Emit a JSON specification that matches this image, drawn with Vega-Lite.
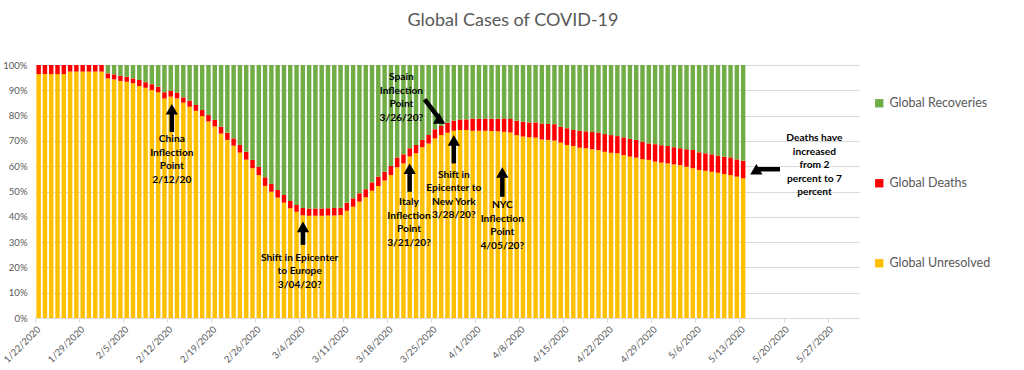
{
  "$schema": "https://vega.github.io/schema/vega-lite/v6.json",
  "width": 824,
  "height": 253,
  "autosize": {"type": "none"},
  "padding": {"left": 35, "top": 65, "right": 165, "bottom": 52},
  "background": "white",
  "title": {"text": "Global Cases of COVID-19", "font": "Lato", "fontSize": 18, "fontWeight": "normal", "color": "#595959", "anchor": "middle", "dx": 66, "offset": 30},
  "config": {
    "view": {"stroke": null},
    "axis": {"labelFont": "Lato", "labelColor": "#595959", "labelFontSize": 9.5, "title": null}
  },
  "datasets": {
    "cases": [
      {"d": "2020-01-22", "Active": 96.4, "Deaths": 3.6, "Recovered": 0},
      {"d": "2020-01-23", "Active": 96.4, "Deaths": 3.6, "Recovered": 0},
      {"d": "2020-01-24", "Active": 96.4, "Deaths": 3.6, "Recovered": 0},
      {"d": "2020-01-25", "Active": 96.4, "Deaths": 3.6, "Recovered": 0},
      {"d": "2020-01-26", "Active": 96.4, "Deaths": 3.6, "Recovered": 0},
      {"d": "2020-01-27", "Active": 97.4, "Deaths": 2.6, "Recovered": 0},
      {"d": "2020-01-28", "Active": 97.4, "Deaths": 2.6, "Recovered": 0},
      {"d": "2020-01-29", "Active": 97.4, "Deaths": 2.6, "Recovered": 0},
      {"d": "2020-01-30", "Active": 97.4, "Deaths": 2.6, "Recovered": 0},
      {"d": "2020-01-31", "Active": 97.4, "Deaths": 2.6, "Recovered": 0},
      {"d": "2020-02-01", "Active": 97.4, "Deaths": 2.6, "Recovered": 0},
      {"d": "2020-02-02", "Active": 94.7, "Deaths": 2.0, "Recovered": 3.3},
      {"d": "2020-02-03", "Active": 94.3, "Deaths": 2.0, "Recovered": 3.7},
      {"d": "2020-02-04", "Active": 93.7, "Deaths": 2.0, "Recovered": 4.3},
      {"d": "2020-02-05", "Active": 93.4, "Deaths": 2.0, "Recovered": 4.6},
      {"d": "2020-02-06", "Active": 92.8, "Deaths": 1.9, "Recovered": 5.3},
      {"d": "2020-02-07", "Active": 91.7, "Deaths": 2.4, "Recovered": 5.9},
      {"d": "2020-02-08", "Active": 91.0, "Deaths": 2.2, "Recovered": 6.8},
      {"d": "2020-02-09", "Active": 90.1, "Deaths": 2.3, "Recovered": 7.6},
      {"d": "2020-02-10", "Active": 89.2, "Deaths": 2.2, "Recovered": 8.6},
      {"d": "2020-02-11", "Active": 86.8, "Deaths": 2.4, "Recovered": 10.8},
      {"d": "2020-02-12", "Active": 87.5, "Deaths": 2.3, "Recovered": 10.2},
      {"d": "2020-02-13", "Active": 86.8, "Deaths": 2.3, "Recovered": 10.9},
      {"d": "2020-02-14", "Active": 85.1, "Deaths": 2.1, "Recovered": 12.8},
      {"d": "2020-02-15", "Active": 83.5, "Deaths": 2.4, "Recovered": 14.1},
      {"d": "2020-02-16", "Active": 81.9, "Deaths": 2.3, "Recovered": 15.8},
      {"d": "2020-02-17", "Active": 79.8, "Deaths": 2.4, "Recovered": 17.8},
      {"d": "2020-02-18", "Active": 77.7, "Deaths": 2.5, "Recovered": 19.8},
      {"d": "2020-02-19", "Active": 75.7, "Deaths": 2.6, "Recovered": 21.7},
      {"d": "2020-02-20", "Active": 72.9, "Deaths": 2.7, "Recovered": 24.4},
      {"d": "2020-02-21", "Active": 70.4, "Deaths": 2.8, "Recovered": 26.8},
      {"d": "2020-02-22", "Active": 68.1, "Deaths": 2.9, "Recovered": 29.0},
      {"d": "2020-02-23", "Active": 65.4, "Deaths": 3.0, "Recovered": 31.6},
      {"d": "2020-02-24", "Active": 62.6, "Deaths": 3.1, "Recovered": 34.3},
      {"d": "2020-02-25", "Active": 59.2, "Deaths": 3.3, "Recovered": 37.5},
      {"d": "2020-02-26", "Active": 56.5, "Deaths": 3.3, "Recovered": 40.2},
      {"d": "2020-02-27", "Active": 52.2, "Deaths": 3.4, "Recovered": 44.4},
      {"d": "2020-02-28", "Active": 49.9, "Deaths": 3.1, "Recovered": 47.0},
      {"d": "2020-02-29", "Active": 47.6, "Deaths": 3.0, "Recovered": 49.4},
      {"d": "2020-03-01", "Active": 45.6, "Deaths": 3.0, "Recovered": 51.4},
      {"d": "2020-03-02", "Active": 43.4, "Deaths": 2.8, "Recovered": 53.8},
      {"d": "2020-03-03", "Active": 42.0, "Deaths": 2.7, "Recovered": 55.3},
      {"d": "2020-03-04", "Active": 40.6, "Deaths": 2.9, "Recovered": 56.5},
      {"d": "2020-03-05", "Active": 40.4, "Deaths": 2.9, "Recovered": 56.7},
      {"d": "2020-03-06", "Active": 40.4, "Deaths": 2.9, "Recovered": 56.7},
      {"d": "2020-03-07", "Active": 40.4, "Deaths": 2.9, "Recovered": 56.7},
      {"d": "2020-03-08", "Active": 40.5, "Deaths": 2.9, "Recovered": 56.6},
      {"d": "2020-03-09", "Active": 40.5, "Deaths": 3.0, "Recovered": 56.5},
      {"d": "2020-03-10", "Active": 40.7, "Deaths": 2.9, "Recovered": 56.4},
      {"d": "2020-03-11", "Active": 42.4, "Deaths": 3.2, "Recovered": 54.4},
      {"d": "2020-03-12", "Active": 44.0, "Deaths": 3.3, "Recovered": 52.7},
      {"d": "2020-03-13", "Active": 46.0, "Deaths": 3.3, "Recovered": 50.7},
      {"d": "2020-03-14", "Active": 47.7, "Deaths": 3.2, "Recovered": 49.1},
      {"d": "2020-03-15", "Active": 50.3, "Deaths": 3.3, "Recovered": 46.4},
      {"d": "2020-03-16", "Active": 52.2, "Deaths": 3.7, "Recovered": 44.1},
      {"d": "2020-03-17", "Active": 54.3, "Deaths": 3.5, "Recovered": 42.2},
      {"d": "2020-03-18", "Active": 56.5, "Deaths": 3.6, "Recovered": 39.9},
      {"d": "2020-03-19", "Active": 59.6, "Deaths": 3.8, "Recovered": 36.6},
      {"d": "2020-03-20", "Active": 61.1, "Deaths": 3.6, "Recovered": 35.3},
      {"d": "2020-03-21", "Active": 63.8, "Deaths": 3.3, "Recovered": 32.9},
      {"d": "2020-03-22", "Active": 65.1, "Deaths": 3.3, "Recovered": 31.6},
      {"d": "2020-03-23", "Active": 67.5, "Deaths": 2.9, "Recovered": 29.6},
      {"d": "2020-03-24", "Active": 69.0, "Deaths": 3.3, "Recovered": 27.7},
      {"d": "2020-03-25", "Active": 71.0, "Deaths": 3.6, "Recovered": 25.4},
      {"d": "2020-03-26", "Active": 72.3, "Deaths": 3.6, "Recovered": 24.1},
      {"d": "2020-03-27", "Active": 73.2, "Deaths": 4.0, "Recovered": 22.8},
      {"d": "2020-03-28", "Active": 74.0, "Deaths": 4.0, "Recovered": 22.0},
      {"d": "2020-03-29", "Active": 74.3, "Deaths": 4.2, "Recovered": 21.5},
      {"d": "2020-03-30", "Active": 74.3, "Deaths": 4.2, "Recovered": 21.5},
      {"d": "2020-03-31", "Active": 74.0, "Deaths": 4.8, "Recovered": 21.2},
      {"d": "2020-04-01", "Active": 74.0, "Deaths": 4.8, "Recovered": 21.2},
      {"d": "2020-04-02", "Active": 74.0, "Deaths": 4.8, "Recovered": 21.2},
      {"d": "2020-04-03", "Active": 73.9, "Deaths": 4.9, "Recovered": 21.2},
      {"d": "2020-04-04", "Active": 73.8, "Deaths": 5.0, "Recovered": 21.2},
      {"d": "2020-04-05", "Active": 73.6, "Deaths": 5.3, "Recovered": 21.1},
      {"d": "2020-04-06", "Active": 73.3, "Deaths": 5.4, "Recovered": 21.3},
      {"d": "2020-04-07", "Active": 72.3, "Deaths": 5.7, "Recovered": 22.0},
      {"d": "2020-04-08", "Active": 71.7, "Deaths": 5.9, "Recovered": 22.4},
      {"d": "2020-04-09", "Active": 71.4, "Deaths": 5.9, "Recovered": 22.7},
      {"d": "2020-04-10", "Active": 71.3, "Deaths": 6.0, "Recovered": 22.7},
      {"d": "2020-04-11", "Active": 70.6, "Deaths": 6.3, "Recovered": 23.1},
      {"d": "2020-04-12", "Active": 70.4, "Deaths": 6.3, "Recovered": 23.3},
      {"d": "2020-04-13", "Active": 70.1, "Deaths": 6.5, "Recovered": 23.4},
      {"d": "2020-04-14", "Active": 69.3, "Deaths": 6.3, "Recovered": 24.4},
      {"d": "2020-04-15", "Active": 68.4, "Deaths": 6.6, "Recovered": 25.0},
      {"d": "2020-04-16", "Active": 68.0, "Deaths": 6.3, "Recovered": 25.7},
      {"d": "2020-04-17", "Active": 67.3, "Deaths": 6.7, "Recovered": 26.0},
      {"d": "2020-04-18", "Active": 67.1, "Deaths": 6.7, "Recovered": 26.2},
      {"d": "2020-04-19", "Active": 66.7, "Deaths": 6.8, "Recovered": 26.5},
      {"d": "2020-04-20", "Active": 66.4, "Deaths": 6.9, "Recovered": 26.7},
      {"d": "2020-04-21", "Active": 65.7, "Deaths": 7.0, "Recovered": 27.3},
      {"d": "2020-04-22", "Active": 65.3, "Deaths": 7.0, "Recovered": 27.7},
      {"d": "2020-04-23", "Active": 65.1, "Deaths": 6.8, "Recovered": 28.1},
      {"d": "2020-04-24", "Active": 64.4, "Deaths": 7.0, "Recovered": 28.6},
      {"d": "2020-04-25", "Active": 63.8, "Deaths": 7.0, "Recovered": 29.2},
      {"d": "2020-04-26", "Active": 63.4, "Deaths": 7.0, "Recovered": 29.6},
      {"d": "2020-04-27", "Active": 62.8, "Deaths": 6.9, "Recovered": 30.3},
      {"d": "2020-04-28", "Active": 62.5, "Deaths": 6.5, "Recovered": 31.0},
      {"d": "2020-04-29", "Active": 61.8, "Deaths": 6.9, "Recovered": 31.3},
      {"d": "2020-04-30", "Active": 61.4, "Deaths": 6.9, "Recovered": 31.7},
      {"d": "2020-05-01", "Active": 61.1, "Deaths": 6.9, "Recovered": 32.0},
      {"d": "2020-05-02", "Active": 60.7, "Deaths": 6.8, "Recovered": 32.5},
      {"d": "2020-05-03", "Active": 60.4, "Deaths": 6.7, "Recovered": 32.9},
      {"d": "2020-05-04", "Active": 59.8, "Deaths": 6.9, "Recovered": 33.3},
      {"d": "2020-05-05", "Active": 59.2, "Deaths": 7.2, "Recovered": 33.6},
      {"d": "2020-05-06", "Active": 58.5, "Deaths": 7.0, "Recovered": 34.5},
      {"d": "2020-05-07", "Active": 58.2, "Deaths": 6.9, "Recovered": 34.9},
      {"d": "2020-05-08", "Active": 57.8, "Deaths": 6.9, "Recovered": 35.3},
      {"d": "2020-05-09", "Active": 57.4, "Deaths": 6.8, "Recovered": 35.8},
      {"d": "2020-05-10", "Active": 56.9, "Deaths": 6.9, "Recovered": 36.2},
      {"d": "2020-05-11", "Active": 56.5, "Deaths": 7.0, "Recovered": 36.5},
      {"d": "2020-05-12", "Active": 55.9, "Deaths": 6.8, "Recovered": 37.3},
      {"d": "2020-05-13", "Active": 55.2, "Deaths": 7.0, "Recovered": 37.8}
    ],
    "notes": [
      {"x": "2020-02-12T18:00Z", "y": 72.7, "t": ["China", "Inflection", "Point", "2/12/20"]},
      {"x": "2020-03-04T02:00Z", "y": 25.7, "t": ["Shift in Epicenter", "to Europe", "3/04/20?"]},
      {"x": "2020-03-21T11:00Z", "y": 47.7, "t": ["Italy", "Inflection", "Point", "3/21/20?"]},
      {"x": "2020-03-28T14:00Z", "y": 58.5, "t": ["Shift in", "Epicenter to", "New York", "3/28/20?"]},
      {"x": "2020-04-05T07:00Z", "y": 46.6, "t": ["NYC", "Inflection", "Point", "4/05/20?"]},
      {"x": "2020-03-20T06:00Z", "y": 97.1, "t": ["Spain", "Inflection", "Point", "3/26/20?"]},
      {"x": "2020-05-24T22:00Z", "y": 73.0, "t": ["Deaths have", "increased", "from 2", "percent to 7", "percent"]}
    ],
    "arrows": [
      {"n": "China", "x": "2020-02-12T18:00Z", "y": 73.5, "x2": "2020-02-12T18:00Z", "y2": 82.5},
      {"n": "Europe", "x": "2020-03-04T14:30Z", "y": 28.9, "x2": "2020-03-04T14:30Z", "y2": 36.0},
      {"n": "Italy", "x": "2020-03-21T13:30Z", "y": 49.9, "x2": "2020-03-21T13:30Z", "y2": 59.0},
      {"n": "NewYork", "x": "2020-03-28T14:00Z", "y": 61.1, "x2": "2020-03-28T14:00Z", "y2": 70.2},
      {"n": "NYC", "x": "2020-04-05T07:00Z", "y": 47.9, "x2": "2020-04-05T07:00Z", "y2": 57.5},
      {"n": "Spain", "x": "2020-03-23T22:30Z", "y": 86.4, "x2": "2020-03-26T06:00Z", "y2": 78.9},
      {"n": "Deaths", "x": "2020-05-19T10:30Z", "y": 58.8, "x2": "2020-05-15T16:20Z", "y2": 58.8}
    ]
  },
  "encoding": {
    "x": {
      "field": "d", "timeUnit": "utcyearmonthdate", "type": "temporal",
      "scale": {"domain": [{"year": 2020, "month": 1, "date": 22, "utc": true}, {"year": 2020, "month": 6, "date": 1, "utc": true}], "nice": false},
      "axis": {
        "values": [
          {"year": 2020, "month": 1, "date": 22, "utc": true},
          {"year": 2020, "month": 1, "date": 29, "utc": true},
          {"year": 2020, "month": 2, "date": 5, "utc": true},
          {"year": 2020, "month": 2, "date": 12, "utc": true},
          {"year": 2020, "month": 2, "date": 19, "utc": true},
          {"year": 2020, "month": 2, "date": 26, "utc": true},
          {"year": 2020, "month": 3, "date": 4, "utc": true},
          {"year": 2020, "month": 3, "date": 11, "utc": true},
          {"year": 2020, "month": 3, "date": 18, "utc": true},
          {"year": 2020, "month": 3, "date": 25, "utc": true},
          {"year": 2020, "month": 4, "date": 1, "utc": true},
          {"year": 2020, "month": 4, "date": 8, "utc": true},
          {"year": 2020, "month": 4, "date": 15, "utc": true},
          {"year": 2020, "month": 4, "date": 22, "utc": true},
          {"year": 2020, "month": 4, "date": 29, "utc": true},
          {"year": 2020, "month": 5, "date": 6, "utc": true},
          {"year": 2020, "month": 5, "date": 13, "utc": true},
          {"year": 2020, "month": 5, "date": 20, "utc": true},
          {"year": 2020, "month": 5, "date": 27, "utc": true}
        ],
        "labelExpr": "utcFormat(datum.value, '%-m/%-d/%Y')",
        "labelOverlap": false,
        "labelAngle": -45, "grid": false, "domainColor": "#D9D9D9", "tickColor": "#D9D9D9", "tickSize": 4, "labelPadding": 2, "title": null
      }
    },
    "y": {
      "field": "v", "type": "quantitative", "stack": "zero",
      "scale": {"domain": [0, 100], "nice": false},
      "axis": {"values": [0, 10, 20, 30, 40, 50, 60, 70, 80, 90, 100], "labelExpr": "datum.value + '%'", "ticks": false, "domain": false, "grid": true, "gridColor": "#D9D9D9", "labelPadding": 8, "title": null}
    }
  },
  "layer": [
    {
      "data": {"name": "cases"},
      "transform": [{"fold": ["Active", "Deaths", "Recovered"], "as": ["k", "v"]}],
      "mark": {"type": "bar", "width": {"band": 0.87}},
      "encoding": {
        "order": {"field": "k", "sort": "ascending"},
        "color": {
          "field": "k", "type": "nominal",
          "scale": {"domain": ["Active", "Deaths", "Recovered"], "range": ["#FFC000", "#FF0000", "#70AD47"]},
          "legend": {
            "values": ["Recovered", "Deaths", "Active"],
            "labelExpr": "{'Active': 'Global Unresolved', 'Deaths': 'Global Deaths', 'Recovered': 'Global Recoveries'}[datum.value]",
            "title": null, "orient": "none", "legendX": 838, "legendY": 32, "padding": 0,
            "symbolType": "square", "symbolSize": 70, "symbolStrokeWidth": 0,
            "labelFont": "Lato", "labelFontSize": 12.5, "labelColor": "#595959", "labelOffset": 4,
            "rowPadding": 67
          }
        }
      }
    },
    {
      "data": {"name": "arrows"},
      "mark": {"type": "rule", "color": "black", "strokeWidth": 4.5},
      "encoding": {
        "x": {"field": "x", "type": "temporal", "timeUnit": "utcyearmonthdatehoursminutes"},
        "y": {"field": "y", "type": "quantitative"},
        "x2": {"field": "x2", "timeUnit": "utcyearmonthdatehoursminutes"},
        "y2": {"field": "y2"}
      }
    },
    {
      "data": {"name": "arrows"},
      "mark": {"type": "point", "shape": "triangle-up", "filled": true, "color": "black", "opacity": 1, "size": 150},
      "encoding": {
        "x": {"field": "x2", "type": "temporal", "timeUnit": "utcyearmonthdatehoursminutes"},
        "y": {"field": "y2", "type": "quantitative"},
        "angle": {"field": "n", "type": "nominal", "legend": null, "scale": {"domain": ["China", "Europe", "Italy", "NewYork", "NYC", "Spain", "Deaths"], "range": [0, 0, 0, 0, 0, 143, 270]}}
      }
    },
    {
      "data": {"name": "notes"},
      "mark": {"type": "text", "font": "Lato", "fontWeight": "bold", "fontSize": 10.2, "color": "black", "align": "center", "baseline": "top", "lineHeight": 13.5},
      "encoding": {
        "x": {"field": "x", "type": "temporal", "timeUnit": "utcyearmonthdatehoursminutes"},
        "y": {"field": "y", "type": "quantitative"},
        "text": {"field": "t"}
      }
    }
  ]
}
